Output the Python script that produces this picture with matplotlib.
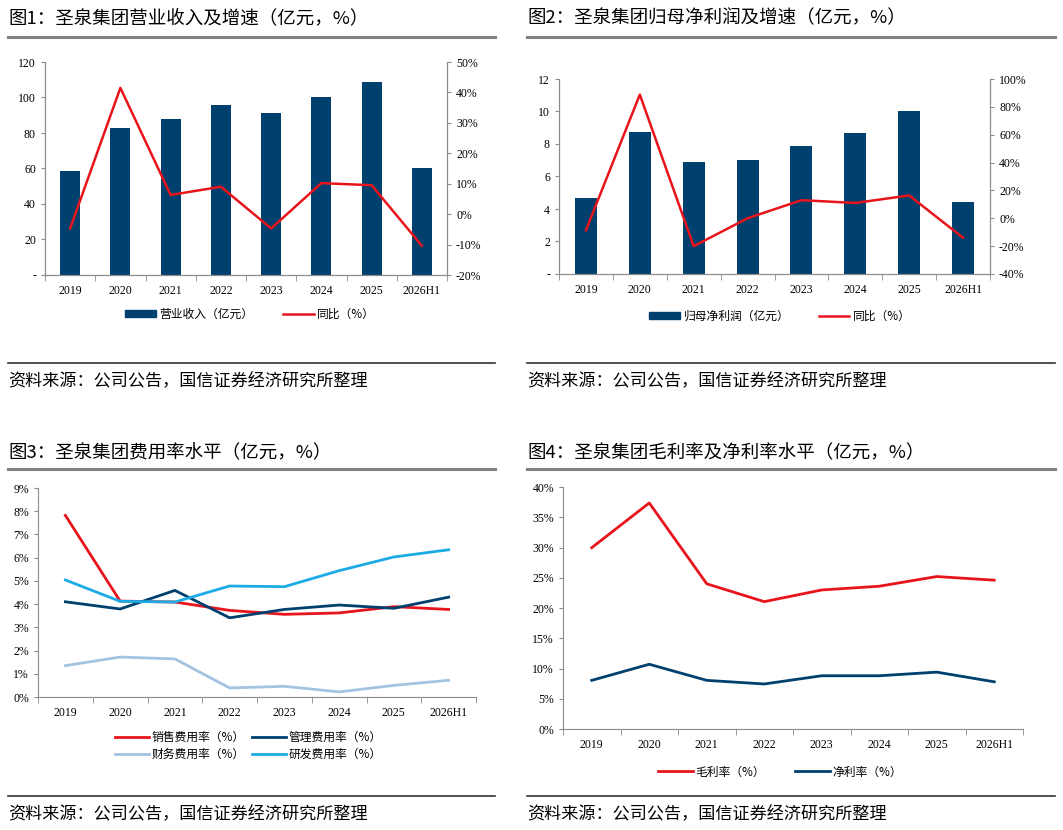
import matplotlib
matplotlib.use('Agg')
import matplotlib.pyplot as plt
from matplotlib.patches import Patch
from matplotlib.lines import Line2D

plt.rcParams['font.family'] = ['Noto Sans CJK SC', 'DejaVu Sans']

W, H = 1063, 830

# 数据
years = ['2019', '2020', '2021', '2022', '2023', '2024', '2025', '2026H1']
revenue = [58.5, 83.0, 88.0, 95.5, 91.0, 100.0, 109.0, 60.5]
revenue_yoy = [-4.7, 41.5, 6.3, 9.0, -4.7, 10.2, 9.5, -10.4]
profit = [4.70, 8.74, 6.89, 7.00, 7.90, 8.68, 10.05, 4.45]
profit_yoy = [-8.6, 88.8, -20.0, 0.0, 13.0, 11.0, 16.4, -14.0]
sales_rate = [7.82, 4.13, 4.09, 3.73, 3.56, 3.62, 3.89, 3.77]
admin_rate = [4.10, 3.79, 4.59, 3.41, 3.77, 3.96, 3.82, 4.30]
fin_rate = [1.35, 1.72, 1.64, 0.39, 0.46, 0.22, 0.50, 0.72]
rd_rate = [5.04, 4.12, 4.09, 4.78, 4.75, 5.44, 6.03, 6.34]
gross_margin = [29.97, 37.36, 24.0, 21.05, 22.98, 23.6, 25.2, 24.6]
net_margin = [8.04, 10.7, 8.04, 7.44, 8.8, 8.8, 9.4, 7.8]

titles = ['图1：圣泉集团营业收入及增速（亿元，%）',
          '图2：圣泉集团归母净利润及增速（亿元，%）',
          '图3：圣泉集团费用率水平（亿元，%）',
          '图4：圣泉集团毛利率及净利率水平（亿元，%）']
source = '资料来源：公司公告，国信证券经济研究所整理'

navy = '#00406F'
red = '#E8141B'
lightblue = '#A3C3E3'
cyan = '#1BABE5'
spine_c = '#8C8C8C'
tick_font = dict(family='Liberation Serif', size=8.5)

fig = plt.figure(figsize=(W / 100, H / 100), dpi=100)


def px_axes(l, t, r, b):
    return fig.add_axes([l / W, 1 - b / H, (r - l) / W, (b - t) / H])


def fy(y):
    return 1 - y / H


def frame(x0, x1, ytitle, yline, yfoot, ysrc, title):
    fig.text(x0 / W, fy(ytitle), title, fontsize=13.3, va='center', ha='left')
    fig.add_artist(Line2D([x0 / W, x1 / W], [fy(yline)] * 2, color='#7F7F7F', lw=2.2))
    fig.add_artist(Line2D([x0 / W, x1 / W], [fy(yfoot)] * 2, color='#333333', lw=1.2))
    fig.text(x0 / W, fy(ysrc), source, fontsize=12.3, va='center', ha='left')


def style(ax, right=False):
    ax.spines['top'].set_visible(False)
    if not right:
        ax.spines['right'].set_visible(False)
    for s in ax.spines.values():
        s.set_color(spine_c)
    ax.tick_params(axis='y', color=spine_c, length=3, labelsize=8.5)
    ax.tick_params(axis='x', which='major', length=0, pad=7)
    ax.tick_params(axis='x', which='minor', color=spine_c, length=4)
    ax.set_xlim(-0.5, len(years) - 0.5)
    ax.set_xticks(range(len(years)))
    ax.set_xticks([i - 0.5 for i in range(len(years) + 1)], minor=True)
    ax.set_xticklabels(years, **tick_font)


def pct_labels(ax, ticks):
    ax.set_yticks(ticks)
    ax.set_yticklabels(['{:g}%'.format(t) for t in ticks], **tick_font)


x = list(range(len(years)))

# 图1
frame(8, 495, 18, 37, 363, 381, titles[0])
ax1 = px_axes(45, 62, 447, 275)
ax1.bar(x, revenue, width=0.4, color=navy)
ax1.set_ylim(0, 120)
ax1.set_yticks(range(0, 121, 20))
ax1.set_yticklabels(['-'] + [str(v) for v in range(20, 121, 20)], **tick_font)
style(ax1, right=True)
ax1b = ax1.twinx()
ax1b.plot(x, revenue_yoy, color=red, lw=1.8)
ax1b.set_ylim(-20, 50)
pct_labels(ax1b, range(-20, 51, 10))
ax1b.spines['top'].set_visible(False)
for s in ax1b.spines.values():
    s.set_color(spine_c)
ax1b.tick_params(axis='y', color=spine_c, length=3)
fig.legend([Patch(color=navy), Line2D([], [], color=red, lw=1.8)],
           ['营业收入（亿元）', '同比（%）'], loc='center', ncol=2,
           bbox_to_anchor=(250 / W, fy(314)), frameon=False, fontsize=8.5,
           handlelength=2.6, handleheight=0.5, columnspacing=2.5, handletextpad=0.3)

# 图2
frame(527, 1055, 18, 37, 363, 381, titles[1])
ax2 = px_axes(559, 79, 990, 274)
ax2.bar(x, profit, width=0.41, color=navy)
ax2.set_ylim(0, 12)
ax2.set_yticks(range(0, 13, 2))
ax2.set_yticklabels(['-'] + [str(v) for v in range(2, 13, 2)], **tick_font)
style(ax2, right=True)
ax2b = ax2.twinx()
ax2b.plot(x, profit_yoy, color=red, lw=1.8)
ax2b.set_ylim(-40, 100)
pct_labels(ax2b, range(-40, 101, 20))
ax2b.spines['top'].set_visible(False)
for s in ax2b.spines.values():
    s.set_color(spine_c)
ax2b.tick_params(axis='y', color=spine_c, length=3)
fig.legend([Patch(color=navy), Line2D([], [], color=red, lw=1.8)],
           ['归母净利润（亿元）', '同比（%）'], loc='center', ncol=2,
           bbox_to_anchor=(780 / W, fy(316)), frameon=False, fontsize=8.5,
           handlelength=2.6, handleheight=0.5, columnspacing=2.5, handletextpad=0.3)

# 图3
frame(8, 495, 453, 469, 796, 814, titles[2])
ax3 = px_axes(38, 488, 476, 697)
l1, = ax3.plot(x, sales_rate, color=red, lw=2)
l2, = ax3.plot(x, admin_rate, color=navy, lw=2)
l3, = ax3.plot(x, fin_rate, color=lightblue, lw=2)
l4, = ax3.plot(x, rd_rate, color=cyan, lw=2)
ax3.set_ylim(0, 9)
pct_labels(ax3, range(0, 10))
style(ax3)
fig.legend([l1, l3, l2, l4],
           ['销售费用率（%）', '财务费用率（%）', '管理费用率（%）', '研发费用率（%）'],
           loc='center', ncol=2, bbox_to_anchor=(248 / W, fy(746)), frameon=False,
           fontsize=8.5, handlelength=2.9, columnspacing=0.6, handletextpad=0.2,
           labelspacing=0.35)

# 图4
frame(527, 1055, 453, 469, 796, 814, titles[3])
ax4 = px_axes(563, 487, 1023, 729)
m1, = ax4.plot(x, gross_margin, color=red, lw=2)
m2, = ax4.plot(x, net_margin, color=navy, lw=2)
ax4.set_ylim(0, 40)
pct_labels(ax4, range(0, 41, 5))
style(ax4)
fig.legend([m1, m2], ['毛利率（%）', '净利率（%）'], loc='center', ncol=2,
           bbox_to_anchor=(780 / W, fy(772)), frameon=False, fontsize=8.5,
           handlelength=3.0, columnspacing=2.5, handletextpad=0.2)

fig.savefig('out.png', dpi=100)
